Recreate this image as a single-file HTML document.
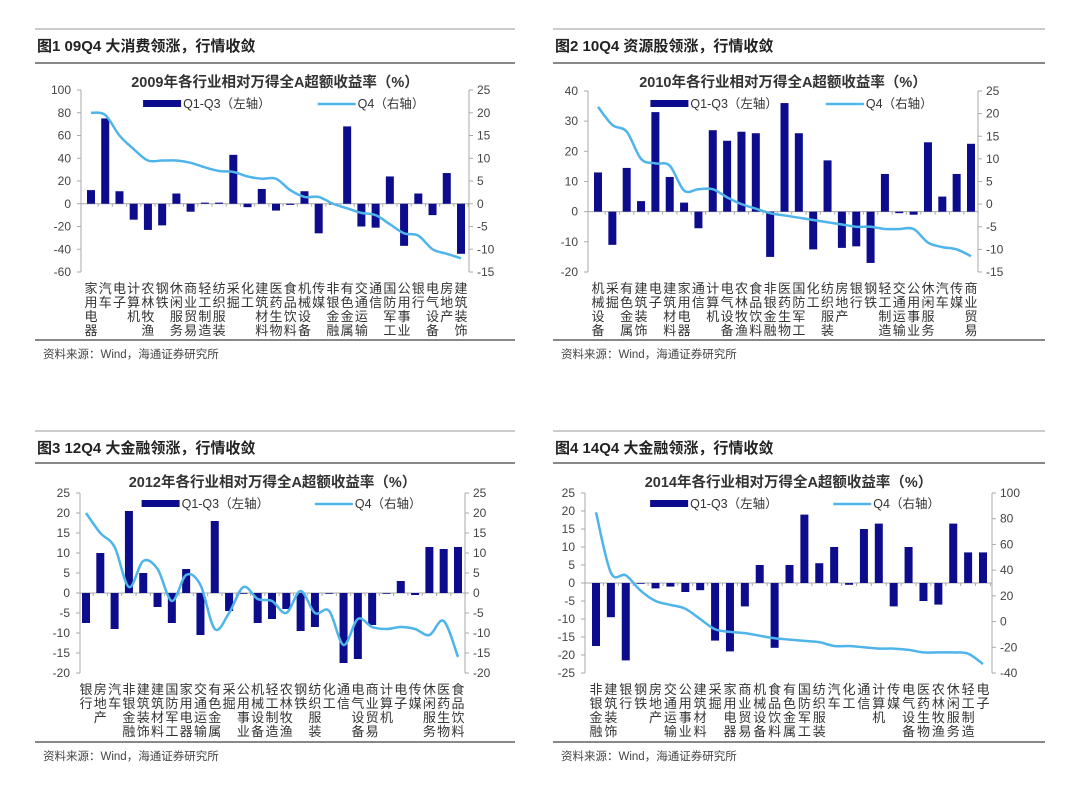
<!DOCTYPE html>
<html><head><meta charset="utf-8">
<style>
html,body{margin:0;padding:0;background:#fff;}
svg{display:block;font-family:"Liberation Sans","Noto Sans CJK SC",sans-serif;}
</style></head>
<body>
<svg id="s" width="1080" height="787" viewBox="0 0 1080 787" xmlns="http://www.w3.org/2000/svg"></svg>
<script>
const P=[
{px0:35,px1:515,top:29,tl:63,bl:340,title:"图1  09Q4 大消费领涨，行情收敛",sub:"2009年各行业相对万得全A超额收益率（%）",
 axL:81,axR:469,yT:90,yB:272,lmin:-60,lmax:100,lstep:20,rmin:-15,rmax:25,rstep:5,bx0:91,bx1:461,
 cats:["家用电器","汽车","电子","计算机","农林牧渔","钢铁","休闲服务","商业贸易","轻工制造","纺织服装","采掘","化工","建筑材料","医药生物","食品饮料","机械设备","传媒","非银金融","有色金属","交通运输","通信","国防军工","公用事业","银行","电气设备","房地产","建筑装饰"],
 bars:[12,75,11,-14,-23,-19,9,-7,1,1,43,-3,13,-6,-1,11,-26,0,68,-20,-21,24,-37,9,-10,27,-44],
 line:[20,19.5,15,12,9.5,9.5,9.5,9,8,7.2,7,6,5.5,5.5,3,1.5,1.5,0,-1,-2,-2.5,-4.5,-6.5,-7,-10,-11,-12]},
{px0:553,px1:1045,top:29,tl:63,bl:340,title:"图2  10Q4 资源股领涨，行情收敛",sub:"2010年各行业相对万得全A超额收益率（%）",
 axL:588,axR:978,yT:91,yB:272,lmin:-20,lmax:40,lstep:10,rmin:-15,rmax:25,rstep:5,bx0:598,bx1:971,
 cats:["机械设备","采掘","有色金属","建筑装饰","电子","建筑材料","家用电器","通信","计算机","电气设备","农林牧渔","食品饮料","非银金融","医药生物","国防军工","化工","纺织服装","房地产","银行","钢铁","轻工制造","交通运输","公用事业","休闲服务","汽车","传媒","商业贸易"],
 bars:[13,-11,14.5,3.5,33,11.5,3,-5.5,27,23.5,26.5,26,-15,36,26,-12.5,17,-12,-11.5,-17,12.5,-0.5,-1,23,5,12.5,22.5],
 line:[21.5,17.5,16,10,9,8.5,3,3.3,3.3,1.5,0,-1,-2,-2.5,-3,-3.5,-4,-4.5,-5,-5,-5.5,-5.5,-5.5,-8.5,-9.5,-10,-11.5]},
{px0:35,px1:515,top:431,tl:463,bl:742,title:"图3  12Q4 大金融领涨，行情收敛",sub:"2012年各行业相对万得全A超额收益率（%）",
 axL:80,axR:465,yT:493,yB:673,lmin:-20,lmax:25,lstep:5,rmin:-20,rmax:25,rstep:5,bx0:86,bx1:458,
 cats:["银行","房地产","汽车","非银金融","建筑装饰","建筑材料","国防军工","家用电器","交通运输","有色金属","采掘","公用事业","机械设备","轻工制造","农林牧渔","钢铁","纺织服装","化工","通信","电气设备","商业贸易","计算机","电子","传媒","休闲服务","医药生物","食品饮料"],
 bars:[-7.5,10,-9,20.5,5,-3.5,-7.5,6,-10.5,18,-4.5,0,-7.5,-6.5,-4,-9.5,-8.5,0,-17.5,-16.5,-8,0,3,-0.5,11.5,11,11.5],
 line:[20,15,11.5,1.5,8,6,-2,4.5,2,-9,-5,1.5,-1.5,-2,-5,0.5,-5,-4.5,-13,-6.5,-8.5,-9,-8.5,-9,-10.5,-7,-16]},
{px0:553,px1:1045,top:431,tl:463,bl:742,title:"图4  14Q4 大金融领涨，行情收敛",sub:"2014年各行业相对万得全A超额收益率（%）",
 axL:585,axR:992,yT:493,yB:673,lmin:-25,lmax:25,lstep:5,rmin:-40,rmax:100,rstep:20,bx0:596,bx1:983,
 cats:["非银金融","建筑装饰","银行","钢铁","房地产","交通运输","公用事业","建筑材料","采掘","家用电器","商业贸易","机械设备","食品饮料","有色金属","国防军工","纺织服装","汽车","化工","通信","计算机","传媒","电气设备","医药生物","农林牧渔","休闲服务","轻工制造","电子"],
 bars:[-17.5,-9.5,-21.5,0,-1.5,-1,-2.5,-2,-16,-19,-6.5,5,-18,5,19,5.5,10,-0.5,15,16.5,-6.5,10,-5,-6,16.5,8.5,8.5],
 line:[85,38,36,24,16,13,10,2,-6,-8,-9,-11,-13,-14,-15,-16,-19,-19,-20,-21,-21,-22,-24,-24,-24,-25,-33]}
];
let o="";
const BAR="#0c0c8c",LN="#4fb4ea";
for(const p of P){
 o+=`<line x1="${p.px0}" y1="${p.top}" x2="${p.px1}" y2="${p.top}" stroke="#999" stroke-width="1"/>`;
 o+=`<text x="${p.px0+2}" y="${p.top+22}" font-size="15" font-weight="bold" fill="#222">${p.title}</text>`;
 o+=`<line x1="${p.px0}" y1="${p.tl}" x2="${p.px1}" y2="${p.tl}" stroke="#888" stroke-width="2"/>`;
 o+=`<line x1="${p.px0}" y1="${p.bl}" x2="${p.px1}" y2="${p.bl}" stroke="#888" stroke-width="2"/>`;
 o+=`<text x="${p.px0+8}" y="${p.bl+18}" font-size="11.5" fill="#444">资料来源：Wind，海通证券研究所</text>`;
 const cx=(p.axL+p.axR)/2;
 o+=`<text x="${cx}" y="${p.tl+24}" font-size="14.5" font-weight="bold" fill="#333" text-anchor="middle">${p.sub}</text>`;
 const ly=v=>p.yB-(v-p.lmin)/(p.lmax-p.lmin)*(p.yB-p.yT);
 const ry=v=>p.yB-(v-p.rmin)/(p.rmax-p.rmin)*(p.yB-p.yT);
 o+=`<line x1="${p.axL}" y1="${p.yT}" x2="${p.axL}" y2="${p.yB}" stroke="#aaa"/>`;
 o+=`<line x1="${p.axR}" y1="${p.yT}" x2="${p.axR}" y2="${p.yB}" stroke="#aaa"/>`;
 for(let v=p.lmin;v<=p.lmax+1e-9;v+=p.lstep){const y=ly(v);
  o+=`<line x1="${p.axL-4}" y1="${y}" x2="${p.axL}" y2="${y}" stroke="#aaa"/>`;
  o+=`<text x="${p.axL-10}" y="${y+4}" font-size="12" fill="#444" text-anchor="end">${v}</text>`;}
 for(let v=p.rmin;v<=p.rmax+1e-9;v+=p.rstep){const y=ry(v);
  o+=`<line x1="${p.axR}" y1="${y}" x2="${p.axR+4}" y2="${y}" stroke="#aaa"/>`;
  o+=`<text x="${p.axR+8}" y="${y+4}" font-size="12" fill="#444">${v}</text>`;}
 const y0=ly(0);
 o+=`<line x1="${p.axL}" y1="${y0}" x2="${p.axR}" y2="${y0}" stroke="#aaa"/>`;
 const n=p.cats.length,st=(p.bx1-p.bx0)/(n-1);
 for(let i=0;i<n;i++){const x=p.bx0+i*st;
  o+=`<line x1="${x+st/2}" y1="${y0}" x2="${x+st/2}" y2="${y0+3}" stroke="#aaa"/>`;
  const v=p.bars[i],yy=ly(v);const h=Math.abs(yy-y0);
  o+=`<rect x="${x-4}" y="${Math.min(yy,y0)}" width="8" height="${Math.max(h,0.8)}" fill="${BAR}"/>`;
  const ch=[...p.cats[i]];
  ch.forEach((c,j)=>{o+=`<text x="${x}" y="${p.yB+21+j*14}" font-size="13" fill="#333" text-anchor="middle">${c}</text>`;});
 }
 const pts=p.line.map((v,i)=>[p.bx0+i*st,ry(v)]);
 let d=`M${pts[0][0]},${pts[0][1]}`;
 for(let i=0;i<pts.length-1;i++){const a=pts[Math.max(i-1,0)],b=pts[i],c=pts[i+1],e=pts[Math.min(i+2,pts.length-1)];
  d+=` C${b[0]+(c[0]-a[0])/6},${b[1]+(c[1]-a[1])/6} ${c[0]-(e[0]-b[0])/6},${c[1]-(e[1]-b[1])/6} ${c[0]},${c[1]}`;}
 o+=`<path d="${d}" fill="none" stroke="${LN}" stroke-width="2.5" stroke-linejoin="round"/>`;
 const lx=p.axL+(p.axR-p.axL)*0.16, ly2=p.tl+41;
 o+=`<rect x="${lx}" y="${ly2-4}" width="38" height="7" fill="${BAR}"/>`;
 o+=`<text x="${lx+40}" y="${ly2+4}" font-size="12.5" fill="#333">Q1-Q3（左轴）</text>`;
 const lx2=p.axL+(p.axR-p.axL)*0.61;
 o+=`<line x1="${lx2}" y1="${ly2}" x2="${lx2+38}" y2="${ly2}" stroke="${LN}" stroke-width="2.5"/>`;
 o+=`<text x="${lx2+40}" y="${ly2+4}" font-size="12.5" fill="#333">Q4（右轴）</text>`;
}
document.getElementById("s").innerHTML=o;
</script>
</body></html>
